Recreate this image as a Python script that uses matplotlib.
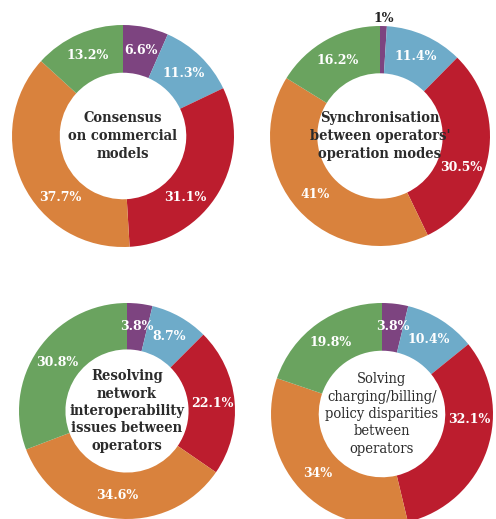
import matplotlib
matplotlib.use("Agg")
from matplotlib import pyplot as plt
import numpy as np

colors = ["#7d4480", "#6eabc9", "#bc1d2e", "#d9823d", "#6aa35f"]

titles = [
    "Consensus\non commercial\nmodels",
    "Synchronisation\nbetween operators'\noperation modes",
    "Resolving\nnetwork\ninteroperability\nissues between\noperators",
    "Solving\ncharging/billing/\npolicy disparities\nbetween\noperators",
]

vals1 = [6.6, 11.3, 31.1, 37.7, 13.2]
vals2 = [1, 11.4, 30.5, 41, 16.2]
vals3 = [3.8, 8.7, 22.1, 34.6, 30.8]
vals4 = [3.8, 10.4, 32.1, 34, 19.8]

labels1 = ["6.6%", "11.3%", "31.1%", "37.7%", "13.2%"]
labels2 = ["1%", "11.4%", "30.5%", "41%", "16.2%"]
labels3 = ["3.8%", "8.7%", "22.1%", "34.6%", "30.8%"]
labels4 = ["3.8%", "10.4%", "32.1%", "34%", "19.8%"]

W, H = 496, 519
# axes boxes in pixels: left, bottom, size
boxes = [(12, 272, 222), (270, 273, 220), (19, 0, 216), (271, -6, 222)]
allvals = [vals1, vals2, vals3, vals4]
alllabels = [labels1, labels2, labels3, labels4]
weights = ["bold", "bold", "bold", "normal"]
spacing = [1.4, 1.4, 1.3, 1.3]
# small angle nudges (deg) for some labels, like in the original
nudge = {(0, 2): -14, (0, 3): 19, (1, 2): -12, (3, 2): 15}

fig = plt.figure(figsize=(W / 100, H / 100), dpi=100)

for i in range(4):
    l, b, s = boxes[i]
    ax = fig.add_axes([l / W, b / H, s / W, s / H])
    ax.pie(allvals[i], colors=colors, startangle=90, counterclock=False,
           radius=1, wedgeprops=dict(width=0.43, linewidth=0))
    ax.set_xlim(-1, 1)
    ax.set_ylim(-1, 1)
    ax.set_aspect("equal")
    ax.axis("off")
    tot = sum(allvals[i])
    cum = 0
    for j, (v, lab) in enumerate(zip(allvals[i], alllabels[i])):
        mid = cum + v / 2
        cum += v
        ang = np.deg2rad(90 - mid / tot * 360 + nudge.get((i, j), 0))
        if v < 2:
            ax.text(1.07 * np.cos(ang), 1.07 * np.sin(ang), lab, ha="center", va="center",
                    color="#222222", fontsize=9, fontweight="bold", family="DejaVu Serif")
        else:
            ax.text(0.79 * np.cos(ang), 0.79 * np.sin(ang), lab, ha="center", va="center",
                    color="white", fontsize=9, fontweight="bold", family="DejaVu Serif")
    ax.text(0, 0, titles[i], ha="center", va="center", color="#2b2b2b",
            fontsize=10.5, fontweight=weights[i], family="DejaVu Serif",
            fontstretch="condensed", linespacing=spacing[i])

fig.savefig("out.png", dpi=100)
